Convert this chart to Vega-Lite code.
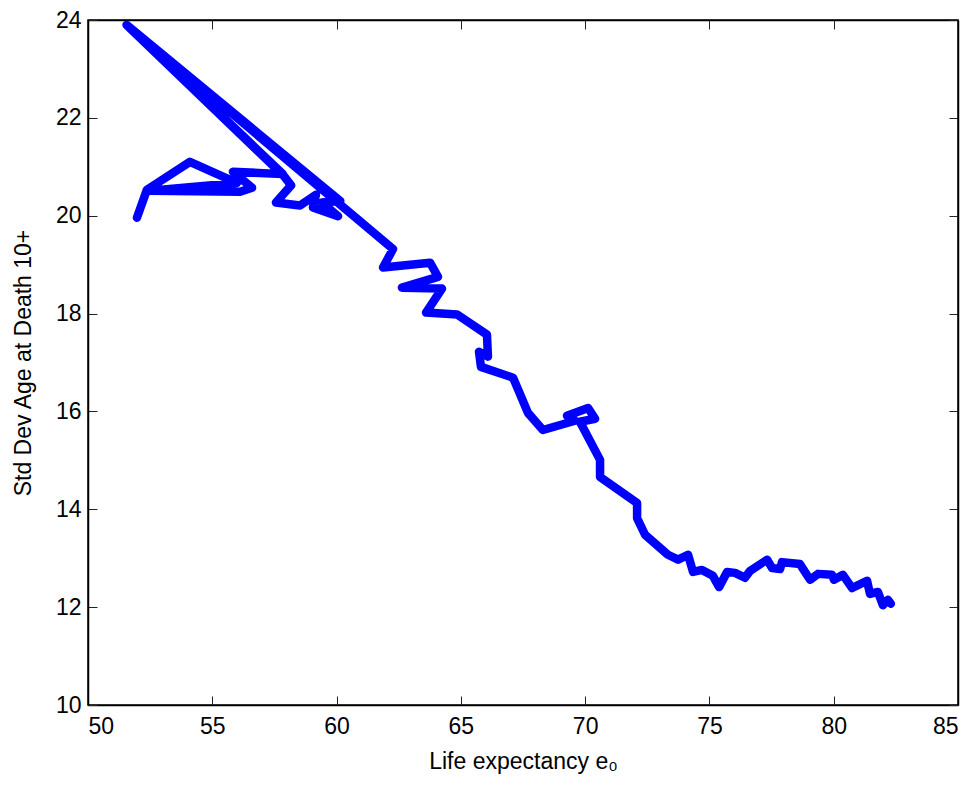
{
  "$schema": "https://vega.github.io/schema/vega-lite/v6.json",
  "width": 870,
  "height": 685,
  "autosize": "none",
  "padding": {"left": 88, "top": 20, "right": 21, "bottom": 80},
  "background": "white",
  "config": {
    "view": {"stroke": "black", "strokeWidth": 1.5},
    "axis": {
      "grid": false,
      "domainColor": "black",
      "domainWidth": 1.5,
      "tickColor": "#222222",
      "tickWidth": 1,
      "tickSize": -9,
      "labelFont": "Liberation Sans",
      "labelFontSize": 23,
      "labelColor": "black",
      "titleFont": "Liberation Sans",
      "titleFontSize": 23,
      "titleFontWeight": "normal",
      "titleColor": "black"
    }
  },
  "data": {
    "values": [
      {"i": 1, "e0": 51.97, "sd": 19.96},
      {"i": 2, "e0": 52.37, "sd": 20.53},
      {"i": 3, "e0": 54.10, "sd": 21.10},
      {"i": 4, "e0": 55.99, "sd": 20.67},
      {"i": 5, "e0": 52.49, "sd": 20.51},
      {"i": 6, "e0": 56.12, "sd": 20.49},
      {"i": 7, "e0": 56.60, "sd": 20.57},
      {"i": 8, "e0": 55.83, "sd": 20.90},
      {"i": 9, "e0": 57.84, "sd": 20.85},
      {"i": 10, "e0": 51.55, "sd": 23.90},
      {"i": 11, "e0": 57.90, "sd": 20.80},
      {"i": 12, "e0": 58.17, "sd": 20.62},
      {"i": 13, "e0": 57.56, "sd": 20.27},
      {"i": 14, "e0": 58.53, "sd": 20.21},
      {"i": 15, "e0": 59.17, "sd": 20.43},
      {"i": 16, "e0": 59.05, "sd": 20.17},
      {"i": 17, "e0": 60.06, "sd": 19.99},
      {"i": 18, "e0": 59.41, "sd": 20.27},
      {"i": 19, "e0": 60.15, "sd": 20.30},
      {"i": 20, "e0": 51.55, "sd": 23.90},
      {"i": 21, "e0": 62.27, "sd": 19.32},
      {"i": 22, "e0": 61.87, "sd": 18.94},
      {"i": 23, "e0": 63.76, "sd": 19.04},
      {"i": 24, "e0": 64.08, "sd": 18.75},
      {"i": 25, "e0": 62.63, "sd": 18.53},
      {"i": 26, "e0": 64.24, "sd": 18.51},
      {"i": 27, "e0": 63.60, "sd": 18.02},
      {"i": 28, "e0": 64.85, "sd": 17.98},
      {"i": 29, "e0": 66.05, "sd": 17.57},
      {"i": 30, "e0": 66.09, "sd": 17.12},
      {"i": 31, "e0": 65.73, "sd": 17.22},
      {"i": 32, "e0": 65.81, "sd": 16.91},
      {"i": 33, "e0": 67.10, "sd": 16.69},
      {"i": 34, "e0": 67.70, "sd": 15.97},
      {"i": 35, "e0": 68.30, "sd": 15.62},
      {"i": 36, "e0": 69.59, "sd": 15.81},
      {"i": 37, "e0": 69.27, "sd": 15.91},
      {"i": 38, "e0": 70.12, "sd": 16.07},
      {"i": 39, "e0": 70.40, "sd": 15.85},
      {"i": 40, "e0": 69.79, "sd": 15.79},
      {"i": 41, "e0": 70.60, "sd": 15.01},
      {"i": 42, "e0": 70.60, "sd": 14.66},
      {"i": 43, "e0": 72.09, "sd": 14.13},
      {"i": 44, "e0": 72.09, "sd": 13.82},
      {"i": 45, "e0": 72.41, "sd": 13.48},
      {"i": 46, "e0": 73.33, "sd": 13.07},
      {"i": 47, "e0": 73.74, "sd": 12.97},
      {"i": 48, "e0": 74.14, "sd": 13.07},
      {"i": 49, "e0": 74.34, "sd": 12.72},
      {"i": 50, "e0": 74.70, "sd": 12.76},
      {"i": 51, "e0": 75.14, "sd": 12.64},
      {"i": 52, "e0": 75.39, "sd": 12.41},
      {"i": 53, "e0": 75.71, "sd": 12.72},
      {"i": 54, "e0": 76.03, "sd": 12.70},
      {"i": 55, "e0": 76.43, "sd": 12.60},
      {"i": 56, "e0": 76.63, "sd": 12.74},
      {"i": 57, "e0": 77.32, "sd": 12.97},
      {"i": 58, "e0": 77.52, "sd": 12.80},
      {"i": 59, "e0": 77.84, "sd": 12.78},
      {"i": 60, "e0": 77.92, "sd": 12.92},
      {"i": 61, "e0": 78.64, "sd": 12.88},
      {"i": 62, "e0": 79.05, "sd": 12.56},
      {"i": 63, "e0": 79.37, "sd": 12.68},
      {"i": 64, "e0": 79.93, "sd": 12.66},
      {"i": 65, "e0": 80.01, "sd": 12.56},
      {"i": 66, "e0": 80.37, "sd": 12.66},
      {"i": 67, "e0": 80.74, "sd": 12.39},
      {"i": 68, "e0": 81.34, "sd": 12.54},
      {"i": 69, "e0": 81.46, "sd": 12.27},
      {"i": 70, "e0": 81.78, "sd": 12.31},
      {"i": 71, "e0": 81.98, "sd": 12.04},
      {"i": 72, "e0": 82.18, "sd": 12.15},
      {"i": 73, "e0": 82.30, "sd": 12.07}
    ]
  },
  "layer": [
    {
      "mark": {"type": "line", "color": "#0000ff", "strokeWidth": 8.5, "strokeCap": "round", "strokeJoin": "round", "clip": true},
      "encoding": {
        "x": {"field": "e0", "type": "quantitative", "scale": {"domain": [50, 85], "nice": false, "zero": false},
              "axis": {"orient": "bottom", "values": [50, 55, 60, 65, 70, 75, 80, 85], "labelPadding": 19, "title": "Life expectancy e₀", "titlePadding": 12}},
        "y": {"field": "sd", "type": "quantitative", "scale": {"domain": [10, 24], "nice": false, "zero": false},
              "axis": {"orient": "left", "values": [10, 12, 14, 16, 18, 20, 22, 24], "labelPadding": 16, "title": "Std Dev Age at Death 10+", "titlePadding": 20}},
        "order": {"field": "i", "type": "quantitative"}
      }
    },
    {
      "mark": {"type": "point", "opacity": 0},
      "encoding": {
        "x": {"field": "e0", "type": "quantitative", "scale": {"domain": [50, 85], "nice": false, "zero": false},
              "axis": {"orient": "top", "values": [50, 55, 60, 65, 70, 75, 80, 85], "labels": false, "title": null}},
        "y": {"field": "sd", "type": "quantitative", "scale": {"domain": [10, 24], "nice": false, "zero": false},
              "axis": {"orient": "right", "values": [10, 12, 14, 16, 18, 20, 22, 24], "labels": false, "title": null}}
      }
    }
  ],
  "resolve": {"scale": {"x": "independent", "y": "independent"}, "axis": {"x": "independent", "y": "independent"}}
}
